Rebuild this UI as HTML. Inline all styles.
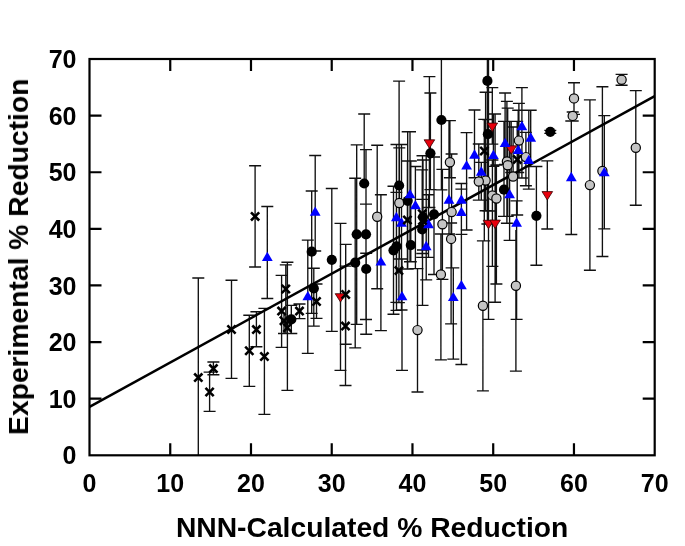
<!DOCTYPE html>
<html><head><meta charset="utf-8"><style>
html,body{margin:0;padding:0;background:#fff;}
body{width:685px;height:546px;overflow:hidden;font-family:"Liberation Sans",sans-serif;}
svg{display:block;}
</style></head><body><svg width="685" height="546" viewBox="0 0 685 546"><path d="M198.3 278.0V455.0M192.3 278.0h12.0M213.4 362.0V374.7M207.4 362.0h12.0M207.4 374.7h12.0M209.6 372.1V411.3M203.6 372.1h12.0M203.6 411.3h12.0M231.5 280.2V378.3M225.5 280.2h12.0M225.5 378.3h12.0M249.3 315.2V386.4M243.3 315.2h12.0M243.3 386.4h12.0M256.4 311.7V346.7M250.4 311.7h12.0M250.4 346.7h12.0M264.4 308.3V414.3M258.4 308.3h12.0M258.4 414.3h12.0M255.1 165.7V267.0M249.1 165.7h12.0M249.1 267.0h12.0M281.6 275.4V347.3M275.6 275.4h12.0M275.6 347.3h12.0M285.8 264.9V333.5M279.8 264.9h12.0M279.8 333.5h12.0M287.4 262.2V390.4M281.4 262.2h12.0M281.4 390.4h12.0M284.0 315.0V333.5M278.0 333.5h12.0M299.5 304.0V318.6M293.5 304.0h12.0M293.5 318.6h12.0M316.5 284.0V318.4M310.5 284.0h12.0M310.5 318.4h12.0M345.7 244.4V344.2M339.7 244.4h12.0M339.7 344.2h12.0M345.5 266.1V385.5M339.5 266.1h12.0M339.5 385.5h12.0M398.9 259.1V302.6M392.9 259.1h12.0M392.9 302.6h12.0M407.4 161.0V269.0M401.4 161.0h12.0M401.4 269.0h12.0M484.3 119.3V240.8M478.3 119.3h12.0M478.3 240.8h12.0M517.2 121.4V215.0M511.2 121.4h12.0M511.2 215.0h12.0M488.5 59.0V224.0M482.5 224.0h12.0M267.3 206.5V298.5M261.3 206.5h12.0M261.3 298.5h12.0M307.8 240.1V353.4M301.8 240.1h12.0M301.8 353.4h12.0M315.2 155.5V251.0M309.2 155.5h12.0M309.2 251.0h12.0M380.9 194.7V330.6M374.9 194.7h12.0M374.9 330.6h12.0M396.4 192.3V302.3M390.4 192.3h12.0M390.4 302.3h12.0M401.5 144.5V310.0M395.5 144.5h12.0M395.5 310.0h12.0M410.0 131.7V261.7M404.0 131.7h12.0M404.0 261.7h12.0M415.4 166.5V268.6M409.4 166.5h12.0M409.4 268.6h12.0M426.2 155.7V279.9M420.2 155.7h12.0M420.2 279.9h12.0M428.5 194.7V257.3M422.5 194.7h12.0M422.5 257.3h12.0M402.0 259.0V370.4M396.0 259.0h12.0M396.0 370.4h12.0M449.0 120.6V234.0M443.0 120.6h12.0M443.0 234.0h12.0M461.4 183.5V234.4M455.4 183.5h12.0M455.4 234.4h12.0M461.4 189.1V364.5M455.4 189.1h12.0M455.4 364.5h12.0M453.3 267.9V359.1M447.3 267.9h12.0M447.3 359.1h12.0M461.4 234.4V364.5M455.4 234.4h12.0M455.4 364.5h12.0M466.6 132.6V230.0M460.6 132.6h12.0M460.6 230.0h12.0M474.5 110.0V177.7M468.5 110.0h12.0M468.5 177.7h12.0M481.3 162.3V200.1M475.3 162.3h12.0M475.3 200.1h12.0M493.4 113.9V166.4M487.4 113.9h12.0M487.4 166.4h12.0M505.1 93.0V164.4M499.1 93.0h12.0M499.1 164.4h12.0M518.2 110.2V172.5M512.2 110.2h12.0M512.2 172.5h12.0M521.9 87.6V178.0M515.9 87.6h12.0M515.9 178.0h12.0M528.8 110.2V189.1M522.8 110.2h12.0M522.8 189.1h12.0M530.7 110.2V166.5M524.7 110.2h12.0M524.7 166.5h12.0M509.6 121.4V240.3M503.6 121.4h12.0M503.6 240.3h12.0M516.6 200.9V319.4M510.6 200.9h12.0M510.6 319.4h12.0M571.3 121.0V234.5M565.3 121.0h12.0M565.3 234.5h12.0M604.3 115.6V228.8M598.3 115.6h12.0M598.3 228.8h12.0M340.5 223.3V370.4M334.5 223.3h12.0M334.5 370.4h12.0M429.4 76.6V207.5M423.4 76.6h12.0M423.4 207.5h12.0M492.3 87.6V144.1M486.3 87.6h12.0M486.3 144.1h12.0M511.2 121.4V172.5M505.2 121.4h12.0M505.2 172.5h12.0M547.3 160.8V229.0M541.3 160.8h12.0M541.3 229.0h12.0M488.5 211.0V319.4M482.5 211.0h12.0M482.5 319.4h12.0M495.1 114.0V302.2M489.1 114.0h12.0M489.1 302.2h12.0M291.3 305.4V333.5M285.3 305.4h12.0M285.3 333.5h12.0M313.8 268.2V326.1M307.8 268.2h12.0M307.8 326.1h12.0M311.7 191.0V313.3M305.7 191.0h12.0M305.7 313.3h12.0M331.8 188.5V331.4M325.8 188.5h12.0M325.8 331.4h12.0M355.2 178.2V347.8M349.2 178.2h12.0M349.2 347.8h12.0M366.2 253.2V334.2M360.2 253.2h12.0M360.2 334.2h12.0M356.7 144.8V324.4M350.7 144.8h12.0M350.7 324.4h12.0M366.0 149.6V319.5M360.0 149.6h12.0M360.0 319.5h12.0M364.2 114.0V183.5M358.2 114.0h12.0M366.0 183.5V204.1M360.0 204.1h12.0M399.1 81.1V259.1M393.1 81.1h12.0M393.1 259.1h12.0M407.7 131.7V269.0M401.7 131.7h12.0M401.7 269.0h12.0M422.3 199.4V253.5M416.3 199.4h12.0M416.3 253.5h12.0M422.5 155.7V305.4M416.5 155.7h12.0M416.5 305.4h12.0M423.0 160.0V250.0M417.0 160.0h12.0M417.0 250.0h12.0M422.2 169.8V257.3M416.2 169.8h12.0M416.2 257.3h12.0M434.0 157.0V274.5M428.0 157.0h12.0M428.0 274.5h12.0M396.5 144.5V310.3M390.5 144.5h12.0M390.5 310.3h12.0M393.5 186.2V314.2M387.5 186.2h12.0M387.5 314.2h12.0M410.8 161.0V261.7M404.8 161.0h12.0M404.8 261.7h12.0M441.4 59.0V189.9M435.4 189.9h12.0M430.4 93.0V189.6M424.4 93.0h12.0M424.4 189.6h12.0M487.4 59.0V224.0M481.4 224.0h12.0M487.9 119.5V144.1M481.9 119.5h12.0M481.9 144.1h12.0M550.3 130.3V133.4M544.3 130.3h12.0M544.3 133.4h12.0M536.4 166.5V265.2M530.4 166.5h12.0M530.4 265.2h12.0M504.0 121.4V216.3M498.0 121.4h12.0M498.0 216.3h12.0M399.3 147.8V259.0M393.3 147.8h12.0M393.3 259.0h12.0M377.2 145.2V288.7M371.2 145.2h12.0M371.2 288.7h12.0M417.5 268.6V392.0M411.5 268.6h12.0M411.5 392.0h12.0M440.9 234.0V359.8M434.9 234.0h12.0M434.9 359.8h12.0M442.4 169.4V279.3M436.4 169.4h12.0M436.4 279.3h12.0M451.6 154.0V267.9M445.6 154.0h12.0M445.6 267.9h12.0M451.1 223.0V323.9M445.1 223.0h12.0M445.1 323.9h12.0M449.9 120.6V177.7M443.9 120.6h12.0M443.9 177.7h12.0M485.6 92.2V210.7M479.6 92.2h12.0M479.6 210.7h12.0M478.8 144.0V200.1M472.8 144.0h12.0M472.8 200.1h12.0M506.9 101.3V223.2M500.9 101.3h12.0M500.9 223.2h12.0M507.7 108.1V216.3M501.7 108.1h12.0M501.7 216.3h12.0M513.1 127.0V180.0M507.1 127.0h12.0M518.9 103.4V178.0M512.9 103.4h12.0M512.9 178.0h12.0M525.9 132.4V185.7M519.9 132.4h12.0M519.9 185.7h12.0M482.9 240.8V390.8M476.9 240.8h12.0M476.9 390.8h12.0M515.9 230.0V371.1M509.9 371.1h12.0M574.0 82.7V114.4M568.0 82.7h12.0M568.0 114.4h12.0M572.7 112.0V121.0M566.7 112.0h12.0M566.7 121.0h12.0M621.6 74.4V85.2M615.6 74.4h12.0M615.6 85.2h12.0M635.8 90.6V205.2M629.8 90.6h12.0M629.8 205.2h12.0M589.9 99.9V270.2M583.9 99.9h12.0M583.9 270.2h12.0M602.4 86.7V256.5M596.4 86.7h12.0M596.4 256.5h12.0M492.4 160.0V266.4M486.4 160.0h12.0M486.4 266.4h12.0M496.4 165.0V284.0M490.4 165.0h12.0M490.4 284.0h12.0" stroke="#111" stroke-width="1.35" fill="none"/><line x1="89.5" y1="406.8" x2="654.7" y2="96.2" stroke="#000" stroke-width="2.5"/><circle cx="399.3" cy="203.0" r="4.6" fill="#c4c4c4" stroke="#000" stroke-width="1.2"/><circle cx="377.2" cy="216.7" r="4.6" fill="#c4c4c4" stroke="#000" stroke-width="1.2"/><circle cx="417.5" cy="330.1" r="4.6" fill="#c4c4c4" stroke="#000" stroke-width="1.2"/><circle cx="440.9" cy="274.5" r="4.6" fill="#c4c4c4" stroke="#000" stroke-width="1.2"/><circle cx="442.4" cy="224.2" r="4.6" fill="#c4c4c4" stroke="#000" stroke-width="1.2"/><circle cx="451.6" cy="212.1" r="4.6" fill="#c4c4c4" stroke="#000" stroke-width="1.2"/><circle cx="451.1" cy="238.9" r="4.6" fill="#c4c4c4" stroke="#000" stroke-width="1.2"/><circle cx="449.9" cy="162.3" r="4.6" fill="#c4c4c4" stroke="#000" stroke-width="1.2"/><circle cx="485.6" cy="180.5" r="4.6" fill="#c4c4c4" stroke="#000" stroke-width="1.2"/><circle cx="478.8" cy="181.5" r="4.6" fill="#c4c4c4" stroke="#000" stroke-width="1.2"/><circle cx="506.9" cy="161.5" r="4.6" fill="#c4c4c4" stroke="#000" stroke-width="1.2"/><circle cx="507.7" cy="165.2" r="4.6" fill="#c4c4c4" stroke="#000" stroke-width="1.2"/><circle cx="513.1" cy="176.5" r="4.6" fill="#c4c4c4" stroke="#000" stroke-width="1.2"/><circle cx="518.9" cy="140.6" r="4.6" fill="#c4c4c4" stroke="#000" stroke-width="1.2"/><circle cx="525.9" cy="157.1" r="4.6" fill="#c4c4c4" stroke="#000" stroke-width="1.2"/><circle cx="482.9" cy="305.7" r="4.6" fill="#c4c4c4" stroke="#000" stroke-width="1.2"/><circle cx="515.9" cy="285.7" r="4.6" fill="#c4c4c4" stroke="#000" stroke-width="1.2"/><circle cx="574.0" cy="98.4" r="4.6" fill="#c4c4c4" stroke="#000" stroke-width="1.2"/><circle cx="572.7" cy="115.9" r="4.6" fill="#c4c4c4" stroke="#000" stroke-width="1.2"/><circle cx="621.6" cy="79.8" r="4.6" fill="#c4c4c4" stroke="#000" stroke-width="1.2"/><circle cx="635.8" cy="147.8" r="4.6" fill="#c4c4c4" stroke="#000" stroke-width="1.2"/><circle cx="589.9" cy="185.1" r="4.6" fill="#c4c4c4" stroke="#000" stroke-width="1.2"/><circle cx="602.4" cy="171.0" r="4.6" fill="#c4c4c4" stroke="#000" stroke-width="1.2"/><circle cx="492.4" cy="195.4" r="4.6" fill="#c4c4c4" stroke="#000" stroke-width="1.2"/><circle cx="496.4" cy="198.5" r="4.6" fill="#c4c4c4" stroke="#000" stroke-width="1.2"/><circle cx="291.3" cy="319.4" r="5.1" fill="#000"/><circle cx="313.8" cy="288.4" r="5.1" fill="#000"/><circle cx="311.7" cy="251.7" r="5.1" fill="#000"/><circle cx="331.8" cy="259.8" r="5.1" fill="#000"/><circle cx="355.2" cy="262.7" r="5.1" fill="#000"/><circle cx="366.2" cy="269.0" r="5.1" fill="#000"/><circle cx="356.7" cy="234.3" r="5.1" fill="#000"/><circle cx="366.0" cy="234.3" r="5.1" fill="#000"/><circle cx="364.2" cy="183.5" r="5.1" fill="#000"/><circle cx="399.1" cy="185.5" r="5.1" fill="#000"/><circle cx="407.7" cy="200.8" r="5.1" fill="#000"/><circle cx="423.0" cy="217.0" r="5.1" fill="#000"/><circle cx="422.2" cy="229.5" r="5.1" fill="#000"/><circle cx="434.0" cy="214.3" r="5.1" fill="#000"/><circle cx="396.5" cy="246.3" r="5.1" fill="#000"/><circle cx="393.5" cy="250.3" r="5.1" fill="#000"/><circle cx="410.8" cy="245.1" r="5.1" fill="#000"/><circle cx="441.4" cy="120.0" r="5.1" fill="#000"/><circle cx="430.4" cy="153.3" r="5.1" fill="#000"/><circle cx="487.4" cy="80.9" r="5.1" fill="#000"/><circle cx="487.9" cy="134.2" r="5.1" fill="#000"/><circle cx="550.3" cy="131.8" r="5.1" fill="#000"/><circle cx="536.4" cy="215.8" r="5.1" fill="#000"/><circle cx="504.0" cy="189.7" r="5.1" fill="#000"/><path d="M513.1 155.4L521.3 163.6M513.1 163.6L521.3 155.4" stroke="#000" stroke-width="2.6"/><path d="M335.2 293.7H345.8L340.5 302.1Z" fill="#e8000c" stroke="#300" stroke-width="0.8"/><path d="M424.1 139.8H434.7L429.4 148.2Z" fill="#e8000c" stroke="#300" stroke-width="0.8"/><path d="M487.0 123.1H497.6L492.3 131.5Z" fill="#e8000c" stroke="#300" stroke-width="0.8"/><path d="M505.9 145.8H516.5L511.2 154.2Z" fill="#e8000c" stroke="#300" stroke-width="0.8"/><path d="M542.0 191.6H552.6L547.3 200.0Z" fill="#e8000c" stroke="#300" stroke-width="0.8"/><path d="M483.2 220.3H493.8L488.5 228.7Z" fill="#e8000c" stroke="#300" stroke-width="0.8"/><path d="M489.8 220.1H500.4L495.1 228.5Z" fill="#e8000c" stroke="#300" stroke-width="0.8"/><path d="M267.3 251.7L272.7 261.0H261.9Z" fill="#0000ff"/><path d="M307.8 291.1L313.2 300.3H302.4Z" fill="#0000ff"/><path d="M315.2 206.4L320.6 215.8H309.8Z" fill="#0000ff"/><path d="M380.9 256.4L386.3 265.6H375.5Z" fill="#0000ff"/><path d="M396.4 211.8L401.8 221.2H391.0Z" fill="#0000ff"/><path d="M401.5 217.3L406.9 226.7H396.1Z" fill="#0000ff"/><path d="M410.0 188.9L415.4 198.2H404.6Z" fill="#0000ff"/><path d="M415.4 199.9L420.8 209.2H410.0Z" fill="#0000ff"/><path d="M426.2 240.8L431.6 250.2H420.8Z" fill="#0000ff"/><path d="M428.5 218.8L433.9 228.2H423.1Z" fill="#0000ff"/><path d="M402.0 291.1L407.4 300.3H396.6Z" fill="#0000ff"/><path d="M449.0 194.3L454.4 203.7H443.6Z" fill="#0000ff"/><path d="M461.4 194.3L466.8 203.7H456.0Z" fill="#0000ff"/><path d="M461.4 206.8L466.8 216.1H456.0Z" fill="#0000ff"/><path d="M453.3 291.9L458.7 301.1H447.9Z" fill="#0000ff"/><path d="M461.4 280.1L466.8 289.3H456.0Z" fill="#0000ff"/><path d="M466.6 160.2L472.0 169.5H461.2Z" fill="#0000ff"/><path d="M474.5 149.3L479.9 158.7H469.1Z" fill="#0000ff"/><path d="M481.3 166.3L486.7 175.7H475.9Z" fill="#0000ff"/><path d="M493.4 149.7L498.8 159.0H488.0Z" fill="#0000ff"/><path d="M505.1 137.7L510.5 147.0H499.7Z" fill="#0000ff"/><path d="M518.2 144.8L523.6 154.1H512.8Z" fill="#0000ff"/><path d="M521.9 120.8L527.3 130.2H516.5Z" fill="#0000ff"/><path d="M528.8 154.8L534.2 164.1H523.4Z" fill="#0000ff"/><path d="M530.7 132.3L536.1 141.7H525.3Z" fill="#0000ff"/><path d="M509.6 188.9L515.0 198.2H504.2Z" fill="#0000ff"/><path d="M516.6 217.3L522.0 226.7H511.2Z" fill="#0000ff"/><path d="M571.3 171.8L576.7 181.2H565.9Z" fill="#0000ff"/><path d="M604.3 166.9L609.7 176.2H598.9Z" fill="#0000ff"/><path d="M194.2 373.5L202.4 381.7M194.2 381.7L202.4 373.5" stroke="#000" stroke-width="2.6"/><path d="M209.3 364.5L217.5 372.7M209.3 372.7L217.5 364.5" stroke="#000" stroke-width="2.6"/><path d="M205.5 387.9L213.7 396.1M205.5 396.1L213.7 387.9" stroke="#000" stroke-width="2.6"/><path d="M227.4 325.4L235.6 333.6M227.4 333.6L235.6 325.4" stroke="#000" stroke-width="2.6"/><path d="M245.2 346.6L253.4 354.8M245.2 354.8L253.4 346.6" stroke="#000" stroke-width="2.6"/><path d="M252.3 325.5L260.5 333.7M252.3 333.7L260.5 325.5" stroke="#000" stroke-width="2.6"/><path d="M260.3 352.4L268.5 360.6M260.3 360.6L268.5 352.4" stroke="#000" stroke-width="2.6"/><path d="M251.0 212.3L259.2 220.5M251.0 220.5L259.2 212.3" stroke="#000" stroke-width="2.6"/><path d="M277.5 307.0L285.7 315.2M277.5 315.2L285.7 307.0" stroke="#000" stroke-width="2.6"/><path d="M281.7 284.9L289.9 293.1M281.7 293.1L289.9 284.9" stroke="#000" stroke-width="2.6"/><path d="M283.3 323.7L291.5 331.9M283.3 331.9L291.5 323.7" stroke="#000" stroke-width="2.6"/><path d="M279.9 316.7L288.1 324.9M279.9 324.9L288.1 316.7" stroke="#000" stroke-width="2.6"/><path d="M295.4 307.0L303.6 315.2M295.4 315.2L303.6 307.0" stroke="#000" stroke-width="2.6"/><path d="M312.4 297.4L320.6 305.6M312.4 305.6L320.6 297.4" stroke="#000" stroke-width="2.6"/><path d="M341.6 290.4L349.8 298.6M341.6 298.6L349.8 290.4" stroke="#000" stroke-width="2.6"/><path d="M341.4 322.0L349.6 330.2M341.4 330.2L349.6 322.0" stroke="#000" stroke-width="2.6"/><path d="M394.8 266.5L403.0 274.7M394.8 274.7L403.0 266.5" stroke="#000" stroke-width="2.6"/><path d="M403.3 215.9L411.5 224.1M403.3 224.1L411.5 215.9" stroke="#000" stroke-width="2.6"/><path d="M480.2 146.9L488.4 155.1M480.2 155.1L488.4 146.9" stroke="#000" stroke-width="2.6"/><path d="M418.2 209.7L426.4 217.9M418.2 217.9L426.4 209.7" stroke="#000" stroke-width="2.6"/><path d="M418.4 216.4L426.6 224.6M418.4 224.6L426.6 216.4" stroke="#000" stroke-width="2.6"/><path d="M170.24 455.30V443.30M170.24 59.00V71.00M89.50 398.69H101.50M654.70 398.69H642.70M250.99 455.30V443.30M250.99 59.00V71.00M89.50 342.07H101.50M654.70 342.07H642.70M331.73 455.30V443.30M331.73 59.00V71.00M89.50 285.46H101.50M654.70 285.46H642.70M412.47 455.30V443.30M412.47 59.00V71.00M89.50 228.84H101.50M654.70 228.84H642.70M493.21 455.30V443.30M493.21 59.00V71.00M89.50 172.23H101.50M654.70 172.23H642.70M573.96 455.30V443.30M573.96 59.00V71.00M89.50 115.61H101.50M654.70 115.61H642.70" stroke="#000" stroke-width="2.2"/><rect x="89.5" y="59.0" width="565.2" height="396.3" fill="none" stroke="#000" stroke-width="2.2"/><g style="filter:grayscale(1)"><g font-family="Liberation Sans, sans-serif" font-weight="bold" font-size="25"><text x="89.5" y="491.6" text-anchor="middle">0</text><text x="76.5" y="464.3" text-anchor="end">0</text><text x="170.2" y="491.6" text-anchor="middle">10</text><text x="76.5" y="407.7" text-anchor="end">10</text><text x="251.0" y="491.6" text-anchor="middle">20</text><text x="76.5" y="351.1" text-anchor="end">20</text><text x="331.7" y="491.6" text-anchor="middle">30</text><text x="76.5" y="294.5" text-anchor="end">30</text><text x="412.5" y="491.6" text-anchor="middle">40</text><text x="76.5" y="237.8" text-anchor="end">40</text><text x="493.2" y="491.6" text-anchor="middle">50</text><text x="76.5" y="181.2" text-anchor="end">50</text><text x="574.0" y="491.6" text-anchor="middle">60</text><text x="76.5" y="124.6" text-anchor="end">60</text><text x="654.7" y="491.6" text-anchor="middle">70</text><text x="76.5" y="68.0" text-anchor="end">70</text></g><text x="372.1" y="537.2" text-anchor="middle" font-family="Liberation Sans, sans-serif" font-weight="bold" font-size="28.25">NNN-Calculated % Reduction</text><text transform="translate(28.0 256.8) rotate(-90)" x="0" y="0" text-anchor="middle" font-family="Liberation Sans, sans-serif" font-weight="bold" font-size="28.25">Experimental % Reduction</text></g></svg></body></html>
